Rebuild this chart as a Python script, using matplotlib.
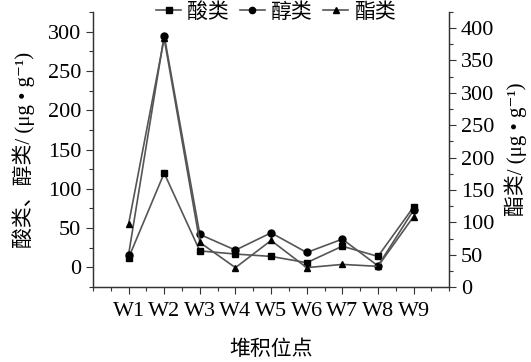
import matplotlib.pyplot as plt
from matplotlib.ticker import MultipleLocator

plt.rcParams['font.family'] = ['Liberation Serif', 'Noto Sans CJK SC', 'DejaVu Sans']
plt.rcParams['font.size'] = 15

sites = ["W1", "W2", "W3", "W4", "W5", "W6", "W7", "W8", "W9"]
acids = [12, 120, 21, 17, 14, 6, 27, 14, 77]        # 酸类 (left)
alcohols = [16, 295, 42, 22, 44, 19, 36, 2, 73]     # 醇类 (left)
esters = [97, 384, 69, 30, 72, 30, 35, 32, 109]     # 酯类 (right)

line_c = "#555555"
x = list(range(1, len(sites) + 1))

fig = plt.figure(figsize=(5.31, 3.62), dpi=100)
ax = fig.add_axes([0.175, 0.207, 0.671, 0.760])
ax2 = ax.twinx()

h1, = ax.plot(x, acids, color=line_c, lw=1.2, marker="s", ms=5,
              mfc="black", mec="black", label="酸类")
h2, = ax.plot(x, alcohols, color=line_c, lw=1.2, marker="o", ms=5,
              mfc="black", mec="black", label="醇类")
h3, = ax2.plot(x, esters, color=line_c, lw=1.2, marker="^", ms=5,
               mfc="black", mec="black", label="酯类")

ax.set_xlim(0, 10)
ax.set_ylim(-25, 325)
ax2.set_ylim(0, 425)
ax.set_xticks(x)
ax.set_xticklabels(sites)
ax.xaxis.set_minor_locator(MultipleLocator(0.5))
ax.set_yticks(range(0, 301, 50))
ax.yaxis.set_minor_locator(MultipleLocator(25))
ax2.set_yticks(range(0, 401, 50))
ax2.yaxis.set_minor_locator(MultipleLocator(25))

for a in (ax, ax2):
    a.spines["top"].set_visible(False)
    for s in a.spines.values():
        s.set_color("#333333")
        s.set_linewidth(0.9)
    a.tick_params(which="both", color="#333333", width=0.8, direction="out",
                  labelsize=16)
    a.tick_params(which="major", length=5)
    a.tick_params(which="minor", length=3)
ax.tick_params(axis="x", pad=6)

ax.set_ylabel("酸类、醇类/ (μg • g⁻¹)", labelpad=9, fontsize=15)
ax2.set_ylabel("酯类/ (μg • g⁻¹)", labelpad=7, fontsize=15)
ax.set_xlabel("堆积位点", labelpad=14, fontsize=15)

fig.legend(handles=[h1, h2, h3], loc="center", bbox_to_anchor=(0.52, 0.965),
           ncol=3, frameon=False, handlelength=1.2, handletextpad=0.3,
           columnspacing=0.5, markerscale=0.9, fontsize=15)

fig.savefig("out.png", dpi=100)
